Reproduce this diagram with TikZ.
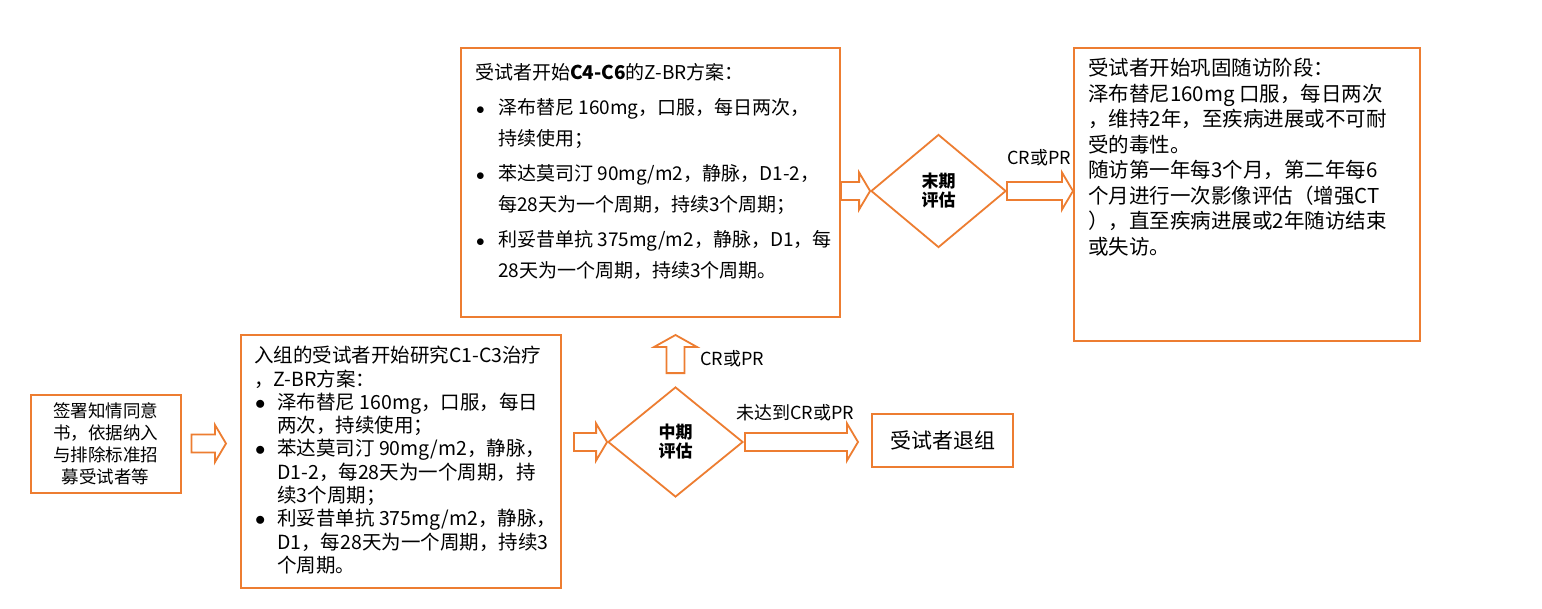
\documentclass[tikz,border=0pt]{standalone}
\usepackage{fontspec}
\setmainfont{Noto Sans CJK SC}
\usetikzlibrary{calc,positioning,shapes.geometric}
\definecolor{frame}{HTML}{ED7D31}

% hollow block arrows, tail -> tip
\newcommand{\fatright}[2]{%
  \draw[fat] let \p1=(#1), \p2=(#2) in
    (\x1,\y1+9pt) -- (\x2-11pt,\y1+9pt) -- (\x2-11pt,\y1+18.5pt) -- (\x2,\y1)
    -- (\x2-11pt,\y1-18.5pt) -- (\x2-11pt,\y1-9pt) -- (\x1,\y1-9pt) -- cycle;}
\newcommand{\fatup}[2]{%
  \draw[fat] let \p1=(#1), \p2=(#2) in
    (\x1-9pt,\y1) -- (\x1-9pt,\y2-12pt) -- (\x1-21.5pt,\y2-12pt) -- (\x1,\y2)
    -- (\x1+21.5pt,\y2-12pt) -- (\x1+9pt,\y2-12pt) -- (\x1+9pt,\y1) -- cycle;}
\newcommand{\itemdot}{\makebox[23pt][l]{\hspace{1pt}$\bullet$}}
\newcommand{\itemgap}{\hspace*{23pt}}

\begin{document}
\begin{tikzpicture}[x=1pt,y=-1pt,
  box/.style={draw=frame,line width=2pt,fill=white,inner sep=0pt},
  check/.style={diamond,draw=frame,line width=1.8pt,fill=white,inner sep=0pt,
    font=\fontsize{17}{19}\selectfont\bfseries,align=center},
  txt/.style={anchor=north west,inner sep=0pt,align=left},
  fat/.style={draw=frame,fill=white,line width=1.8pt,line join=miter},
  tag/.style={inner sep=0pt,font=\fontsize{18}{20}\selectfont}]
  \fill[white] (0,0) rectangle (1542,608);
  \useasboundingbox (0,0) rectangle (1542,608);

  % consent
  \node[box,minimum width=150pt,minimum height=98pt,align=center,
    font=\fontsize{17.5}{22}\selectfont] (sign) at (105.5,443.5)
    {签署知情同意\\书，依据纳入\\与排除标准招\\募受试者等};

  % C1-C3
  \node[box,minimum width=320pt,minimum height=253pt] (c13) at (401,461.5) {};
  \node[txt,font=\fontsize{19.5}{23.3}\selectfont] (c13txt) at (254,346)
    {入组的受试者开始研究C1-C3治疗\\
     ，Z-BR方案：\\
     \itemdot 泽布替尼 160mg，口服，每日\\
     \itemgap 两次，持续使用；\\
     \itemdot 苯达莫司汀 90mg/m2，静脉，\\
     \itemgap D1-2，每28天为一个周期，持\\
     \itemgap 续3个周期；\\
     \itemdot 利妥昔单抗 375mg/m2，静脉，\\
     \itemgap D1，每28天为一个周期，持续3\\
     \itemgap 个周期。};

  % interim check
  \node[check,minimum width=135pt,minimum height=110pt] (mid) at (675.5,442) {中期\\评估};
  \node[box,minimum width=141pt,minimum height=53pt,
    font=\fontsize{21}{24}\selectfont] (quit) at (942.5,440) {受试者退组};

  % C4-C6
  \node[box,minimum width=379pt,minimum height=269pt] (c46) at (650.5,182.5) {};
  \node[txt,font=\fontsize{19}{31}\selectfont] (c46txt) at (475,63.5)
    {受试者开始\textbf{C4-C6}的Z-BR方案：\\[4pt]
     \itemdot 泽布替尼 160mg，口服，每日两次，\\
     \itemgap 持续使用；\\[4pt]
     \itemdot 苯达莫司汀 90mg/m2，静脉，D1-2，\\
     \itemgap 每28天为一个周期，持续3个周期；\\[4pt]
     \itemdot 利妥昔单抗 375mg/m2，静脉，D1，每\\
     \itemgap 28天为一个周期，持续3个周期。};

  % final check
  \node[check,minimum width=135pt,minimum height=113pt] (last) at (938.5,191) {末期\\评估};

  % follow-up
  \node[box,minimum width=346pt,minimum height=293pt] (follow) at (1247,194.5) {};
  \node[txt,font=\fontsize{20.5}{25.5}\selectfont] (followtxt) at (1088,58)
    {受试者开始巩固随访阶段：\\
     泽布替尼160mg 口服，每日两次\\
     ，维持2年，至疾病进展或不可耐\\
     受的毒性。\\
     随访第一年每3个月，第二年每6\\
     个月进行一次影像评估（增强CT\\
     ），直至疾病进展或2年随访结束\\
     或失访。};

  % arrows
  \fatright{[xshift=10pt]sign.east}{[xshift=-14pt]c13.west}
  \fatright{$(c13.east |- mid.west)+(12,0)$}{mid.west}
  \fatup{[yshift=13pt]mid.north}{[yshift=-17pt]c46.south}
  \fatright{[xshift=1pt]mid.east}{[xshift=-13pt]quit.west}
  \fatright{c46.east |- last.west}{last.west}
  \fatright{last.east}{follow.west}

  % labels
  \node[tag,anchor=west] (crup) at (700,359) {CR或PR};
  \node[tag] (nocr) at (795,413) {未达到CR或PR};
  \node[tag] (crright) at (1039,158) {CR或PR};
\end{tikzpicture}
\end{document}
